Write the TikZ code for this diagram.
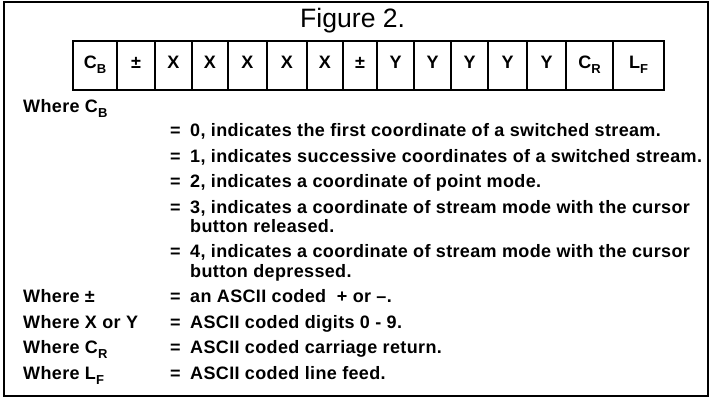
\documentclass[tikz,border=0pt]{standalone}
\usepackage{fontspec}
\newfontfamily\bodyfont[LetterSpace=2]{Liberation Sans}
\newfontfamily\titlefont{Liberation Sans}
\newcommand\mysub[1]{\raisebox{-5pt}{\fontsize{13}{13}\selectfont #1}}
\begin{document}
\begin{tikzpicture}[x=1pt,y=-1pt,
  every node/.style={inner sep=0pt, font=\bodyfont\bfseries\fontsize{18}{21}\selectfont},
  cell/.style={draw, line width=1.6pt, minimum height=49pt, text height=13pt, text depth=7pt},
  txt/.style={anchor=base west},
  eqs/.style={anchor=base west}]
\useasboundingbox (0,0) rectangle (713,401);
\draw[line width=1.2pt] (4,2) rectangle (708,396);
\node[anchor=base west, font=\titlefont\fontsize{26.6}{30}\selectfont] (title) at (300,28) {Figure 2.};
% cells
\node[cell, minimum width=44pt] (c1) at (95,65.5) {C\mysub{B}};
\node[cell, minimum width=38pt] (c2) at (136,65.5) {±};
\node[cell, minimum width=37pt] (c3) at (173.5,65.5) {X};
\node[cell, minimum width=36pt] (c4) at (210,65.5) {X};
\node[cell, minimum width=39pt] (c5) at (247.5,65.5) {X};
\node[cell, minimum width=40pt] (c6) at (287,65.5) {X};
\node[cell, minimum width=36pt] (c7) at (325,65.5) {X};
\node[cell, minimum width=34pt] (c8) at (360,65.5) {±};
\node[cell, minimum width=37pt] (c9) at (395.5,65.5) {Y};
\node[cell, minimum width=37pt] (c10) at (432.5,65.5) {Y};
\node[cell, minimum width=37pt] (c11) at (469.5,65.5) {Y};
\node[cell, minimum width=39pt] (c12) at (507.5,65.5) {Y};
\node[cell, minimum width=39pt] (c13) at (546.5,65.5) {Y};
\node[cell, minimum width=47pt] (c14) at (589.5,65.5) {C\mysub{R}};
\node[cell, minimum width=51pt] (c15) at (638.5,65.5) {L\mysub{F}};
% definitions
\node[txt] (w1) at (23,113) {Where C\mysub{B}};
\node[eqs] (e0) at (170,137) {=};
\node[txt] (t0) at (190,137) {0, indicates the first coordinate of a switched stream.};
\node[eqs] (e1) at (170,162.5) {=};
\node[txt] (t1) at (190,162.5) {1, indicates successive coordinates of a switched stream.};
\node[eqs] (e2) at (170,188) {=};
\node[txt] (t2) at (190,188) {2, indicates a coordinate of point mode.};
\node[eqs] (e3) at (170,213.5) {=};
\node[txt] (t3) at (190,213.5) {3, indicates a coordinate of stream mode with the cursor};
\node[txt] (t3b) at (190,232.5) {button released.};
\node[eqs] (e4) at (170,258) {=};
\node[txt] (t4) at (190,258) {4, indicates a coordinate of stream mode with the cursor};
\node[txt] (t4b) at (190,277) {button depressed.};
\node[txt] (w2) at (23,302.5) {Where ±};
\node[eqs] (e5) at (170,302.5) {=};
\node[txt] (t5) at (190,302.5) {an ASCII coded\ \ + or –.};
\node[txt] (w3) at (23,328) {Where X or Y};
\node[eqs] (e6) at (170,328) {=};
\node[txt] (t6) at (190,328) {ASCII coded digits 0 - 9.};
\node[txt] (w4) at (23,353.5) {Where C\mysub{R}};
\node[eqs] (e7) at (170,353.5) {=};
\node[txt] (t7) at (190,353.5) {ASCII coded carriage return.};
\node[txt] (w5) at (23,379) {Where L\mysub{F}};
\node[eqs] (e8) at (170,379) {=};
\node[txt] (t8) at (190,379) {ASCII coded line feed.};
\end{tikzpicture}
\end{document}
